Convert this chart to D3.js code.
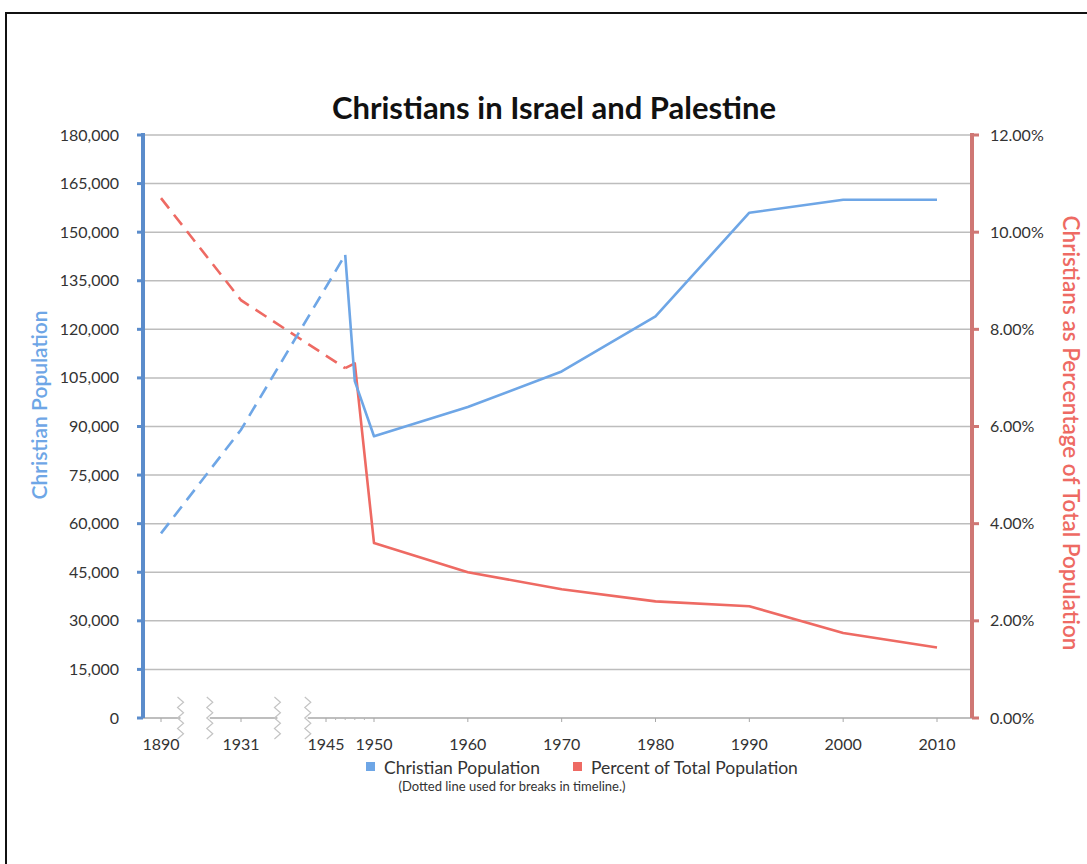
<!DOCTYPE html>
<html>
<head>
<meta charset="utf-8">
<script src="https://cdn.jsdelivr.net/npm/d3@7"></script>
<style>
  body { margin: 0; background: #fff; }
  svg text { font-family: Lato, "Open Sans", sans-serif; }
</style>
</head>
<body>
<div id="chart"></div>
<script>
// data
const years = [1890, 1931, 1947, 1948, 1950, 1960, 1970, 1980, 1990, 2000, 2010];
const christianPop = [57000, 89000, 143000, 104000, 87000, 96000, 107000, 124000, 156000, 160000, 160000];
const percentTotal = [10.7, 8.6, 7.2, 7.3, 3.6, 3.0, 2.65, 2.4, 2.3, 1.75, 1.45];
const tickYears = [1890, 1931, 1945, 1950, 1960, 1970, 1980, 1990, 2000, 2010];
const minorYears = [1946, 1947, 1948, 1949];
const axisBreaks = [[1900, 1915], [1937, 1942]];
const leftTicks = d3.range(0, 180001, 15000);
const rightTicks = [0, 2, 4, 6, 8, 10, 12];
const lastDashedYear = 1947;

const width = 1087, height = 864;
const blue = '#6ea6e6', red = '#ee6a63';

const svg = d3.select('#chart').append('svg')
  .attr('width', width)
  .attr('height', height);

// outer frame (only top and left edges visible)
svg.append('path')
  .attr('d', `M6,${height} V13 H${width}`)
  .attr('fill', 'none')
  .attr('stroke', '#111')
  .attr('stroke-width', 2);

const plotLeft = 143, plotRight = 972, plotTop = 135, plotBottom = 718;

// broken timeline: piecewise linear scale
const x = d3.scaleLinear()
  .domain([1890, 1931, 1945, 1950, 2010])
  .range([161, 241, 326, 374, 937]);

const yLeft = d3.scaleLinear().domain([0, 180000]).range([plotBottom, plotTop]);
const yRight = d3.scaleLinear().domain([0, 12]).range([plotBottom, plotTop]);

// gridlines
svg.append('g')
  .selectAll('line')
  .data(leftTicks.filter(d => d > 0))
  .join('line')
  .attr('x1', plotLeft).attr('x2', plotRight)
  .attr('y1', d => yLeft(d)).attr('y2', d => yLeft(d))
  .attr('stroke', '#bdbdbd')
  .attr('stroke-width', 1.5);

// x axis baseline with gaps at breaks
const segs = [];
let start = plotLeft;
axisBreaks.forEach(b => {
  segs.push([start, x(b[0])]);
  start = x(b[1]);
});
segs.push([start, plotRight]);
svg.append('g')
  .selectAll('line')
  .data(segs)
  .join('line')
  .attr('x1', d => d[0]).attr('x2', d => d[1])
  .attr('y1', plotBottom).attr('y2', plotBottom)
  .attr('stroke', '#a8a8a8')
  .attr('stroke-width', 1.5);

// zigzag break marks
const zig = (cx) => {
  const pts = [];
  for (let i = 0; i <= 8; i++) {
    pts.push([cx + (i % 2 === 0 ? -3 : 3), plotBottom - 21 + i * 5.25]);
  }
  return d3.line()(pts);
};
const zigG = svg.append('g');
axisBreaks.forEach(b => {
  [b[0], b[1]].forEach(yr => {
    zigG.append('path')
      .attr('d', zig(x(yr)))
      .attr('fill', 'none')
      .attr('stroke', '#c4c4c4')
      .attr('stroke-width', 1.2);
  });
});

// x ticks
svg.append('g')
  .selectAll('line')
  .data(tickYears)
  .join('line')
  .attr('x1', d => x(d)).attr('x2', d => x(d))
  .attr('y1', plotBottom).attr('y2', plotBottom + 4)
  .attr('stroke', '#a8a8a8');
svg.append('g')
  .selectAll('line')
  .data(minorYears)
  .join('line')
  .attr('x1', d => x(d)).attr('x2', d => x(d))
  .attr('y1', plotBottom).attr('y2', plotBottom + 2)
  .attr('stroke', '#b8b8b8');
svg.append('g')
  .selectAll('text')
  .data(tickYears)
  .join('text')
  .attr('x', d => x(d))
  .attr('y', plotBottom + 32)
  .attr('text-anchor', 'middle')
  .attr('font-size', 16)
  .attr('fill', '#333')
  .text(d => d);

// left axis
const leftAxis = svg.append('g');
leftAxis.append('line')
  .attr('x1', plotLeft).attr('x2', plotLeft)
  .attr('y1', plotTop - 2).attr('y2', plotBottom)
  .attr('stroke', '#5b8ccb')
  .attr('stroke-width', 4);
leftAxis.selectAll('rect')
  .data(leftTicks)
  .join('rect')
  .attr('x', plotLeft - 6).attr('y', d => yLeft(d) - 1.5)
  .attr('width', 6).attr('height', 3)
  .attr('fill', '#5b8ccb');
leftAxis.selectAll('text')
  .data(leftTicks)
  .join('text')
  .attr('x', plotLeft - 24)
  .attr('y', d => yLeft(d) + 5.5)
  .attr('text-anchor', 'end')
  .attr('font-size', 16)
  .attr('fill', '#333')
  .text(d => d3.format(',')(d));

// right axis
const rightAxis = svg.append('g');
rightAxis.append('line')
  .attr('x1', plotRight).attr('x2', plotRight)
  .attr('y1', plotTop - 2).attr('y2', plotBottom)
  .attr('stroke', '#cf7774')
  .attr('stroke-width', 4);
rightAxis.selectAll('rect')
  .data(rightTicks)
  .join('rect')
  .attr('x', plotRight).attr('y', d => yRight(d) - 1.5)
  .attr('width', 7).attr('height', 3)
  .attr('fill', '#cf7774');
rightAxis.selectAll('text')
  .data(rightTicks)
  .join('text')
  .attr('x', plotRight + 18)
  .attr('y', d => yRight(d) + 5.5)
  .attr('font-size', 16)
  .attr('fill', '#333')
  .text(d => d3.format('.2f')(d) + '%');

// lines: dashed before the timeline resumes, solid afterwards
const pts = years.map((yr, i) => ({ yr, pop: christianPop[i], pct: percentTotal[i] }));
const dashedPts = pts.filter(d => d.yr <= lastDashedYear);
const solidPts = pts.filter(d => d.yr >= lastDashedYear);

const popLine = d3.line().x(d => x(d.yr)).y(d => yLeft(d.pop));
const pctLine = d3.line().x(d => x(d.yr)).y(d => yRight(d.pct));

[[pctLine, red], [popLine, blue]].forEach(([ln, col]) => {
  svg.append('path')
    .attr('d', ln(dashedPts))
    .attr('fill', 'none')
    .attr('stroke', col)
    .attr('stroke-width', 2.6)
    .attr('stroke-dasharray', '13,8');
  svg.append('path')
    .attr('d', ln(solidPts))
    .attr('fill', 'none')
    .attr('stroke', col)
    .attr('stroke-width', 2.6)
    .attr('stroke-linejoin', 'round');
});

// title
svg.append('text')
  .attr('x', 554).attr('y', 119)
  .attr('text-anchor', 'middle')
  .attr('font-size', 31)
  .attr('font-weight', 'bold')
  .attr('fill', '#111')
  .text('Christians in Israel and Palestine');

// axis titles
svg.append('text')
  .attr('transform', 'translate(47,405) rotate(-90)')
  .attr('text-anchor', 'middle')
  .attr('font-size', 21)
  .attr('font-weight', 600)
  .attr('fill', blue)
  .text('Christian Population');
svg.append('text')
  .attr('transform', 'translate(1063,433) rotate(90)')
  .attr('text-anchor', 'middle')
  .attr('font-size', 22.5)
  .attr('font-weight', 600)
  .attr('fill', red)
  .text('Christians as Percentage of Total Population');

// legend
const legendItems = [['Christian Population', blue, 366], ['Percent of Total Population', red, 573]];
const lg = svg.append('g');
legendItems.forEach(([label, col, lx]) => {
  lg.append('rect')
    .attr('x', lx).attr('y', 762)
    .attr('width', 9).attr('height', 9)
    .attr('fill', col);
  lg.append('text')
    .attr('x', lx + 18).attr('y', 774)
    .attr('font-size', 17.5)
    .attr('fill', '#333')
    .text(label);
});
svg.append('text')
  .attr('x', 512).attr('y', 791)
  .attr('text-anchor', 'middle')
  .attr('font-size', 13)
  .attr('fill', '#333')
  .text('(Dotted line used for breaks in timeline.)');
</script>
</body>
</html>
